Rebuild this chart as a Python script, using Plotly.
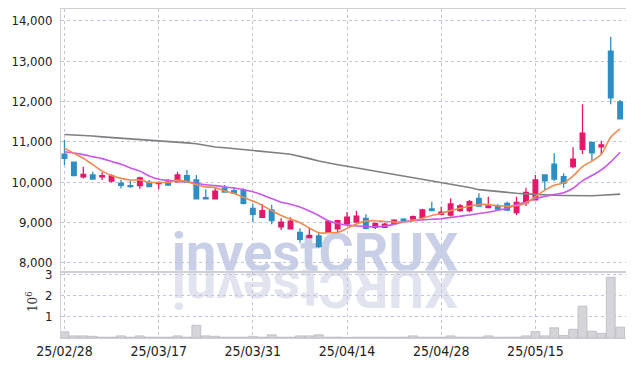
import plotly.graph_objects as go

dates = ["25/02/28", "25/03/04", "25/03/05", "25/03/06", "25/03/07", "25/03/10", "25/03/11", "25/03/12",
         "25/03/13", "25/03/14", "25/03/17", "25/03/18", "25/03/19", "25/03/20", "25/03/21", "25/03/24",
         "25/03/25", "25/03/26", "25/03/27", "25/03/28", "25/03/31", "25/04/01", "25/04/02", "25/04/03",
         "25/04/04", "25/04/07", "25/04/08", "25/04/09", "25/04/10", "25/04/11", "25/04/14", "25/04/15",
         "25/04/16", "25/04/17", "25/04/18", "25/04/21", "25/04/22", "25/04/23", "25/04/24", "25/04/25",
         "25/04/28", "25/04/29", "25/04/30", "25/05/02", "25/05/07", "25/05/08", "25/05/09", "25/05/12",
         "25/05/13", "25/05/14", "25/05/15", "25/05/16", "25/05/19", "25/05/20", "25/05/21", "25/05/22",
         "25/05/23", "25/05/26", "25/05/27", "25/05/28"]

opens = [10690, 10490, 10125, 10175, 10130, 10025, 9970, 9910, 9910, 9990,
         9960, 10005, 10005, 10155, 10050, 9610, 9585, 9845, 9785, 9800,
         9345, 9125, 9305, 8890, 8840, 8750, 8620, 8660, 8750, 8840,
         8960, 9005, 9100, 8875, 8875, 8975, 9080, 9080, 9125, 9330,
         9200, 9180, 9290, 9290, 9595, 9365, 9410, 9470, 9240, 9480,
         9555, 10175, 10445, 10130, 10380, 10810, 10985, 10875, 13250, 11990]
highs = [11050, 10500, 10380, 10255, 10240, 10190, 10050, 10030, 10130, 10050,
         10010, 10075, 10255, 10300, 10175, 9820, 9845, 9925, 9870, 9845,
         9455, 9455, 9437, 9100, 9125, 8850, 8850, 8767, 9025, 9040,
         9256, 9288, 9200, 8990, 8990, 9075, 9100, 9170, 9338, 9510,
         9387, 9595, 9455, 9553, 9720, 9635, 9455, 9510, 9635, 9860,
         10175, 10175, 10712, 10216, 10861, 11928, 10985, 11025, 13605, 12035]
lows = [10420, 10150, 10090, 10075, 10050, 9990, 9840, 9860, 9835, 9885,
        9820, 9900, 9985, 9990, 9580, 9570, 9585, 9750, 9695, 9445,
        9010, 9125, 8950, 8810, 8840, 8495, 8620, 8355, 8750, 8727,
        8925, 8990, 8826, 8835, 8860, 8960, 9015, 9080, 9075, 9290,
        9180, 9140, 9263, 9248, 9387, 9360, 9288, 9280, 9180, 9405,
        9553, 9785, 10025, 9860, 10340, 10695, 10530, 10670, 11928, 11570]
closes = [10590, 10160, 10190, 10075, 10155, 10150, 9920, 9885, 10105, 9885,
          9985, 9925, 10175, 9990, 9580, 9580, 9775, 9750, 9720, 9470,
          9200, 9290, 9040, 9005, 9030, 8580, 8675, 8395, 9025, 9040,
          9130, 9155, 8850, 8975, 8955, 9055, 9050, 9140, 9305, 9290,
          9250, 9455, 9405, 9510, 9405, 9405, 9325, 9305, 9495, 9745,
          10050, 10030, 10075, 9970, 10570, 11210, 10725, 10920, 12090, 11570]
volumes = [290000, 100000, 100000, 80000, 40000, 40000, 100000, 40000, 100000, 40000,
           40000, 40000, 100000, 40000, 600000, 100000, 80000, 40000, 40000, 40000,
           80000, 40000, 150000, 40000, 40000, 100000, 100000, 150000, 40000, 40000,
           30000, 40000, 40000, 40000, 40000, 40000, 40000, 100000, 40000, 40000,
           40000, 100000, 40000, 40000, 40000, 100000, 40000, 40000, 40000, 100000,
           300000, 100000, 480000, 120000, 410000, 1500000, 320000, 220000, 2860000, 510000]

ma5 = [10840, 10710, 10590, 10430, 10270, 10160, 10090, 10050, 10050, 9990,
       9990, 9990, 10040, 10010, 9930, 9880, 9860, 9780, 9720, 9620,
       9530, 9420, 9290, 9170, 9080, 8990, 8860, 8740, 8740, 8750,
       8850, 8960, 9030, 9040, 9020, 9010, 9010, 9040, 9100, 9170,
       9220, 9290, 9350, 9400, 9440, 9440, 9410, 9400, 9410, 9480,
       9640, 9800, 9920, 9980, 10150, 10380, 10520, 10690, 11110, 11320]
ma20 = [10750, 10720, 10680, 10630, 10580, 10510, 10440, 10350, 10270, 10150,
        10070, 10040, 10020, 10000, 9970, 9930, 9910, 9880, 9850, 9810,
        9760, 9680, 9590, 9500, 9450, 9380, 9280, 9170, 9040, 8970,
        8930, 8910, 8895, 8890, 8905, 8950, 9010, 9040, 9060, 9075,
        9090, 9120, 9150, 9180, 9220, 9250, 9300, 9350, 9440, 9500,
        9590, 9640, 9690, 9735, 9845, 10030, 10160, 10300, 10500, 10740]
ma60 = [11180, 11170, 11160, 11140, 11120, 11105, 11090, 11075, 11060, 11040,
        11020, 11005, 10990, 10970, 10950, 10910, 10870, 10850, 10830, 10805,
        10780, 10760, 10740, 10715, 10690, 10640, 10580, 10520, 10470, 10430,
        10390, 10350, 10310, 10270, 10230, 10190, 10150, 10115, 10080, 10040,
        10000, 9960, 9920, 9865, 9810, 9785, 9760, 9740, 9720, 9705,
        9690, 9680, 9670, 9665, 9660, 9660, 9660, 9670, 9680, 9700]

x_tick_labels = ["25/02/28", "25/03/17", "25/03/31", "25/04/14", "25/04/28", "25/05/15"]
price_ticks = [8000, 9000, 10000, 11000, 12000, 13000, 14000]
vol_ticks = [1000000, 2000000, 3000000]
vol_tick_text = ["1", "2", "3"]
watermark = "investCRUX"

RED = "#E3186A"
BLUE = "#2E8EC3"
GRID = "#c4c4da"
AXL = "#cfcfd4"
TICKFONT = dict(family="Liberation Sans Narrow, DejaVu Sans Condensed, Liberation Sans, sans-serif",
                size=13, color="#222222")

fig = go.Figure()

fig.add_trace(go.Candlestick(
    x=dates, open=opens, high=highs, low=lows, close=closes,
    increasing=dict(line=dict(color=RED, width=1.3), fillcolor=RED),
    decreasing=dict(line=dict(color=BLUE, width=1.3), fillcolor=BLUE),
    whiskerwidth=0, xaxis="x", yaxis="y", showlegend=False, hoverinfo="skip"))

fig.add_trace(go.Scatter(x=dates, y=ma60, mode="lines", line=dict(color="#7f7f7f", width=1.6),
                         xaxis="x", yaxis="y", showlegend=False, hoverinfo="skip"))
fig.add_trace(go.Scatter(x=dates, y=ma20, mode="lines", line=dict(color="#C957EA", width=1.6, shape="spline"),
                         xaxis="x", yaxis="y", showlegend=False, hoverinfo="skip"))
fig.add_trace(go.Scatter(x=dates, y=ma5, mode="lines", line=dict(color="#EE8B50", width=1.6, shape="spline"),
                         xaxis="x", yaxis="y", showlegend=False, hoverinfo="skip"))

fig.add_trace(go.Bar(x=dates, y=volumes, marker=dict(color="#d4d4d9", line=dict(color="#b9b9bf", width=0.8)),
                     xaxis="x2", yaxis="y2", showlegend=False, hoverinfo="skip"))

common_x = dict(type="category", categoryorder="array", categoryarray=dates, range=[-0.37, 59.62],
                tickvals=x_tick_labels, showgrid=True, gridcolor=GRID, griddash="dot", gridwidth=1,
                showline=True, linecolor=AXL, linewidth=1, mirror=True, ticks="", zeroline=False,
                rangeslider=dict(visible=False), fixedrange=True, automargin=False)

fig.update_layout(
    width=634, height=366,
    margin=dict(l=53, r=16, t=1, b=36, autoexpand=False),
    paper_bgcolor="white", plot_bgcolor="white",
    showlegend=False, bargap=0.06,
    xaxis=dict(domain=[0, 1], anchor="y", showticklabels=False, **common_x),
    xaxis2=dict(domain=[0, 1], anchor="y2", matches="x", showticklabels=True, tickfont=dict(TICKFONT, size=14),
                ticklabelstandoff=0, **common_x),
    yaxis=dict(domain=[0.2006, 1], anchor="x", range=[7767, 14293], tickvals=price_ticks, tickformat=",d",
               showgrid=True, gridcolor=GRID, griddash="dot", gridwidth=1, zeroline=False,
               showline=True, linecolor=AXL, linewidth=1, mirror=True, ticks="", automargin=False,
               tickfont=TICKFONT, ticklabelstandoff=5),
    yaxis2=dict(domain=[0, 0.2006], anchor="x2", range=[0, 3110000], tickvals=vol_ticks, ticktext=vol_tick_text,
                showgrid=True, gridcolor=GRID, griddash="dot", gridwidth=1, zeroline=False,
                showline=True, linecolor=AXL, linewidth=1, mirror=True, ticks="", automargin=False,
                tickfont=TICKFONT, ticklabelstandoff=5),
    shapes=[
        dict(type="rect", xref="paper", yref="paper", x0=0.3496, x1=0.5496, y0=0.2434, y1=0.3034,
             line=dict(width=0), fillcolor="rgba(0,0,0,0)", layer="below",
             label=dict(text="<b>" + watermark + "</b>", textposition="middle center",
                        font=dict(family="Roboto, sans-serif", size=54, color="#c9cfe6"))),
        dict(type="rect", xref="paper", yref="paper", x0=0.3496, x1=0.5496, y0=0.1078, y1=0.1678,
             line=dict(width=0), fillcolor="rgba(0,0,0,0)", layer="below",
             label=dict(text="<b>" + watermark[::-1] + "</b>", textposition="middle center", textangle=180,
                        font=dict(family="Roboto, sans-serif", size=54, color="#e1e4ef"))),
    ],
    annotations=[
        dict(text="10<sup>6</sup>", xref="paper", yref="paper", x=-0.0513, y=0.1094, showarrow=False,
             textangle=-90, font=dict(family="DejaVu Serif, serif", size=12, color="#333333"),
             xanchor="center", yanchor="middle"),
    ],
)

fig.write_html("out.html")
